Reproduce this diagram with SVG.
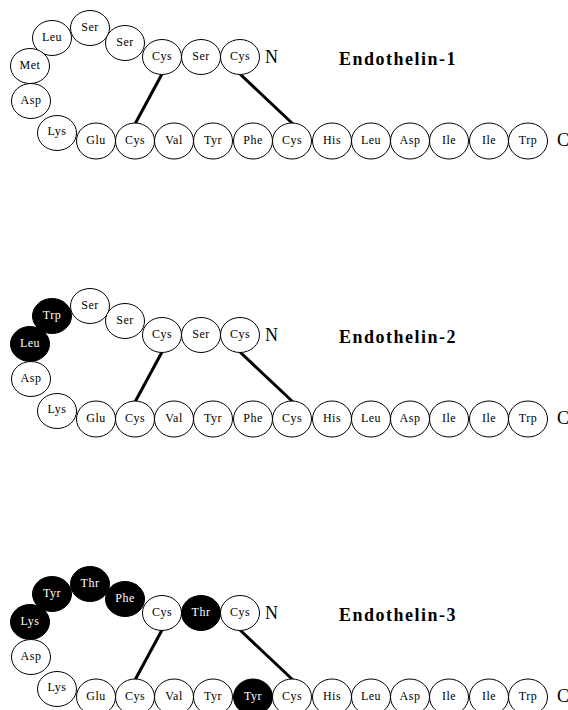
<svg xmlns="http://www.w3.org/2000/svg" width="568" height="710" viewBox="0 0 568 710">
<style>
.n ellipse{fill:#fff;stroke:#000;stroke-width:1}
.n text{font-family:"Liberation Serif","Times New Roman",serif;font-size:12px;text-anchor:middle;fill:#000;letter-spacing:0.5px}
.b ellipse{fill:#000}
.b text{fill:#fff}
.ss{stroke:#000;stroke-width:3;fill:none}
.t{font-family:"Liberation Serif","Times New Roman",serif;font-size:18px;font-weight:bold;letter-spacing:1.5px}
.e{font-family:"Liberation Serif","Times New Roman",serif;font-size:18px}
</style>
<g id="connectors">
<line class="ss" x1="162" y1="74" x2="135" y2="124"/>
<line class="ss" x1="240" y1="74" x2="293" y2="124"/>
<line class="ss" x1="162" y1="352" x2="135" y2="402"/>
<line class="ss" x1="240" y1="352" x2="293" y2="402"/>
<line class="ss" x1="162" y1="630" x2="135" y2="680"/>
<line class="ss" x1="240" y1="630" x2="293" y2="680"/>
</g>
<!-- Panel 1 -->
<g id="p1">
<g id="p1-ser1" class="n" transform="translate(90,28)"><ellipse rx="19.5" ry="17.5"/><text y="3">Ser</text></g>
<g id="p1-leu1" class="n" transform="translate(52,38)"><ellipse rx="19.5" ry="17.5"/><text y="3">Leu</text></g>
<g id="p1-ser2" class="n" transform="translate(125,43)"><ellipse rx="19.5" ry="17.5"/><text y="3">Ser</text></g>
<g id="p1-cys1" class="n" transform="translate(162,57)"><ellipse rx="19.5" ry="17.5"/><text y="3">Cys</text></g>
<g id="p1-ser3" class="n" transform="translate(201,57)"><ellipse rx="19.5" ry="17.5"/><text y="3">Ser</text></g>
<g id="p1-cys2" class="n" transform="translate(240,57)"><ellipse rx="19.5" ry="17.5"/><text y="3">Cys</text></g>
<g id="p1-met" class="n" transform="translate(30,66)"><ellipse rx="19.5" ry="17.5"/><text y="3">Met</text></g>
<g id="p1-asp1" class="n" transform="translate(31,101)"><ellipse rx="19.5" ry="17.5"/><text y="3">Asp</text></g>
<g id="p1-lys" class="n" transform="translate(57,133)"><ellipse rx="19.5" ry="17.5"/><text y="2">Lys</text></g>
<g id="p1-glu" class="n" transform="translate(96,141)"><ellipse rx="19.5" ry="18"/><text y="3">Glu</text></g>
<g id="p1-cys3" class="n" transform="translate(135,141)"><ellipse rx="19.5" ry="18"/><text y="3">Cys</text></g>
<g id="p1-val" class="n" transform="translate(174,141)"><ellipse rx="19.5" ry="18"/><text y="3">Val</text></g>
<g id="p1-tyr" class="n" transform="translate(213,141)"><ellipse rx="19.5" ry="18"/><text y="3">Tyr</text></g>
<g id="p1-phe" class="n" transform="translate(253,141)"><ellipse rx="19.5" ry="18"/><text y="3">Phe</text></g>
<g id="p1-cys4" class="n" transform="translate(292,141)"><ellipse rx="19.5" ry="18"/><text y="3">Cys</text></g>
<g id="p1-his" class="n" transform="translate(332,141)"><ellipse rx="19.5" ry="18"/><text y="3">His</text></g>
<g id="p1-leu2" class="n" transform="translate(371,141)"><ellipse rx="19.5" ry="18"/><text y="3">Leu</text></g>
<g id="p1-asp2" class="n" transform="translate(410,141)"><ellipse rx="19.5" ry="18"/><text y="3">Asp</text></g>
<g id="p1-ile1" class="n" transform="translate(449,141)"><ellipse rx="19.5" ry="18"/><text y="3">Ile</text></g>
<g id="p1-ile2" class="n" transform="translate(489,141)"><ellipse rx="19.5" ry="18"/><text y="3">Ile</text></g>
<g id="p1-trp" class="n" transform="translate(528,141)"><ellipse rx="19.5" ry="18"/><text y="3">Trp</text></g>
<text class="e" x="265" y="63">N</text>
<text class="e" x="557" y="146">C</text>
<text class="t" x="339" y="65">Endothelin-1</text>
</g>
<!-- Panel 2 -->
<g id="p2" transform="translate(0,278)">
<g id="p2-ser1" class="n" transform="translate(90,28)"><ellipse rx="19.5" ry="17.5"/><text y="3">Ser</text></g>
<g id="p2-trp1" class="n b" transform="translate(52,38)"><ellipse rx="19.5" ry="17.5"/><text y="3">Trp</text></g>
<g id="p2-ser2" class="n" transform="translate(125,43)"><ellipse rx="19.5" ry="17.5"/><text y="3">Ser</text></g>
<g id="p2-cys1" class="n" transform="translate(162,57)"><ellipse rx="19.5" ry="17.5"/><text y="3">Cys</text></g>
<g id="p2-ser3" class="n" transform="translate(201,57)"><ellipse rx="19.5" ry="17.5"/><text y="3">Ser</text></g>
<g id="p2-cys2" class="n" transform="translate(240,57)"><ellipse rx="19.5" ry="17.5"/><text y="3">Cys</text></g>
<g id="p2-leu1" class="n b" transform="translate(30,66)"><ellipse rx="19.5" ry="17.5"/><text y="3">Leu</text></g>
<g id="p2-asp1" class="n" transform="translate(31,101)"><ellipse rx="19.5" ry="17.5"/><text y="3">Asp</text></g>
<g id="p2-lys" class="n" transform="translate(57,133)"><ellipse rx="19.5" ry="17.5"/><text y="2">Lys</text></g>
<g id="p2-glu" class="n" transform="translate(96,141)"><ellipse rx="19.5" ry="18"/><text y="3">Glu</text></g>
<g id="p2-cys3" class="n" transform="translate(135,141)"><ellipse rx="19.5" ry="18"/><text y="3">Cys</text></g>
<g id="p2-val" class="n" transform="translate(174,141)"><ellipse rx="19.5" ry="18"/><text y="3">Val</text></g>
<g id="p2-tyr" class="n" transform="translate(213,141)"><ellipse rx="19.5" ry="18"/><text y="3">Tyr</text></g>
<g id="p2-phe" class="n" transform="translate(253,141)"><ellipse rx="19.5" ry="18"/><text y="3">Phe</text></g>
<g id="p2-cys4" class="n" transform="translate(292,141)"><ellipse rx="19.5" ry="18"/><text y="3">Cys</text></g>
<g id="p2-his" class="n" transform="translate(332,141)"><ellipse rx="19.5" ry="18"/><text y="3">His</text></g>
<g id="p2-leu2" class="n" transform="translate(371,141)"><ellipse rx="19.5" ry="18"/><text y="3">Leu</text></g>
<g id="p2-asp2" class="n" transform="translate(410,141)"><ellipse rx="19.5" ry="18"/><text y="3">Asp</text></g>
<g id="p2-ile1" class="n" transform="translate(449,141)"><ellipse rx="19.5" ry="18"/><text y="3">Ile</text></g>
<g id="p2-ile2" class="n" transform="translate(489,141)"><ellipse rx="19.5" ry="18"/><text y="3">Ile</text></g>
<g id="p2-trp2" class="n" transform="translate(528,141)"><ellipse rx="19.5" ry="18"/><text y="3">Trp</text></g>
<text class="e" x="265" y="63">N</text>
<text class="e" x="557" y="146">C</text>
<text class="t" x="339" y="65">Endothelin-2</text>
</g>
<!-- Panel 3 -->
<g id="p3" transform="translate(0,556)">
<g id="p3-thr1" class="n b" transform="translate(90,28)"><ellipse rx="19.5" ry="17.5"/><text y="3">Thr</text></g>
<g id="p3-tyr1" class="n b" transform="translate(52,38)"><ellipse rx="19.5" ry="17.5"/><text y="3">Tyr</text></g>
<g id="p3-phe1" class="n b" transform="translate(125,43)"><ellipse rx="19.5" ry="17.5"/><text y="3">Phe</text></g>
<g id="p3-cys1" class="n" transform="translate(162,57)"><ellipse rx="19.5" ry="17.5"/><text y="3">Cys</text></g>
<g id="p3-thr2" class="n b" transform="translate(201,57)"><ellipse rx="19.5" ry="17.5"/><text y="3">Thr</text></g>
<g id="p3-cys2" class="n" transform="translate(240,57)"><ellipse rx="19.5" ry="17.5"/><text y="3">Cys</text></g>
<g id="p3-lys1" class="n b" transform="translate(30,66)"><ellipse rx="19.5" ry="17.5"/><text y="3">Lys</text></g>
<g id="p3-asp1" class="n" transform="translate(31,101)"><ellipse rx="19.5" ry="17.5"/><text y="3">Asp</text></g>
<g id="p3-lys2" class="n" transform="translate(57,133)"><ellipse rx="19.5" ry="17.5"/><text y="2">Lys</text></g>
<g id="p3-glu" class="n" transform="translate(96,141)"><ellipse rx="19.5" ry="18"/><text y="3">Glu</text></g>
<g id="p3-cys3" class="n" transform="translate(135,141)"><ellipse rx="19.5" ry="18"/><text y="3">Cys</text></g>
<g id="p3-val" class="n" transform="translate(174,141)"><ellipse rx="19.5" ry="18"/><text y="3">Val</text></g>
<g id="p3-tyr2" class="n" transform="translate(213,141)"><ellipse rx="19.5" ry="18"/><text y="3">Tyr</text></g>
<g id="p3-tyr3" class="n b" transform="translate(253,141)"><ellipse rx="19.5" ry="18"/><text y="3">Tyr</text></g>
<g id="p3-cys4" class="n" transform="translate(292,141)"><ellipse rx="19.5" ry="18"/><text y="3">Cys</text></g>
<g id="p3-his" class="n" transform="translate(332,141)"><ellipse rx="19.5" ry="18"/><text y="3">His</text></g>
<g id="p3-leu" class="n" transform="translate(371,141)"><ellipse rx="19.5" ry="18"/><text y="3">Leu</text></g>
<g id="p3-asp2" class="n" transform="translate(410,141)"><ellipse rx="19.5" ry="18"/><text y="3">Asp</text></g>
<g id="p3-ile1" class="n" transform="translate(449,141)"><ellipse rx="19.5" ry="18"/><text y="3">Ile</text></g>
<g id="p3-ile2" class="n" transform="translate(489,141)"><ellipse rx="19.5" ry="18"/><text y="3">Ile</text></g>
<g id="p3-trp" class="n" transform="translate(528,141)"><ellipse rx="19.5" ry="18"/><text y="3">Trp</text></g>
<text class="e" x="265" y="63">N</text>
<text class="e" x="557" y="146">C</text>
<text class="t" x="339" y="65">Endothelin-3</text>
</g>
</svg>
